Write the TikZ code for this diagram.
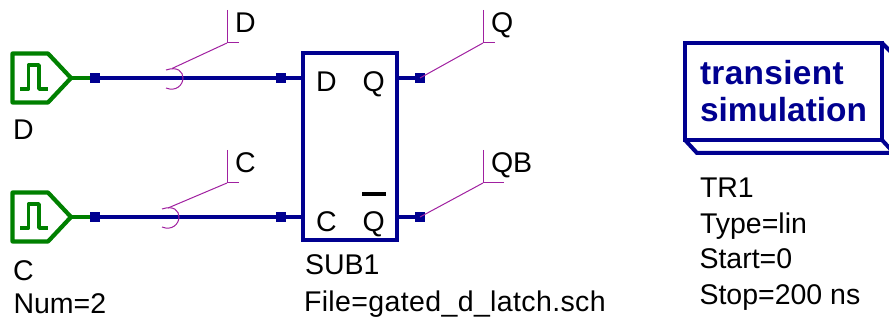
\documentclass[tikz,border=0pt]{standalone}
\usepackage{fontspec}
\setmainfont{Liberation Sans}
\definecolor{wireblue}{HTML}{000090}
\definecolor{srcgreen}{HTML}{008000}
\definecolor{labelpurple}{HTML}{A020A0}
\tikzset{
  wire/.style={draw=wireblue,line width=4.4pt},
  symbolline/.style={draw=wireblue,line width=4pt,line join=miter},
  srcline/.style={draw=srcgreen,line width=4.2pt,line join=round,line cap=round},
  srcwire/.style={draw=srcgreen,line width=4.2pt},
  junction/.style={fill=wireblue,draw=none,minimum size=10pt,inner sep=0pt,outer sep=0pt},
  txt/.style={anchor=base west,inner sep=0pt,outer sep=0pt,font=\fontsize{28.5}{30}\selectfont,text=black},
  simtxt/.style={anchor=base west,inner sep=0pt,outer sep=0pt,font=\fontsize{33.4}{36}\bfseries\selectfont,text=wireblue},
  tag/.style={draw=labelpurple,line width=1pt}
}
\begin{document}
\begin{tikzpicture}[x=1pt,y=-1pt]
\useasboundingbox (0,0) rectangle (889,323);
% sources
\foreach \n/\y in {d/78,c/217}{
  \draw[srcline] (12.5,\y-24.5) -- (48,\y-24.5) -- (71,\y) -- (48,\y+24.5) -- (12.5,\y+24.5) -- cycle;
  \draw[draw=srcgreen,line width=3.4pt,line join=round] (20,\y+11) -- (28.5,\y+11) -- (28.5,\y-13) -- (39,\y-13) -- (39,\y+11) -- (48,\y+11);
  \coordinate (src\n) at (71,\y);
}
% junctions
\node[junction] (jd1) at (95,78) {};
\node[junction] (jd2) at (281,78) {};
\node[junction] (jc1) at (95,217) {};
\node[junction] (jc2) at (281,217) {};
\node[junction] (jq) at (420,78) {};
\node[junction] (jqb) at (420,217) {};
% subcircuit
\node[draw=wireblue,line width=4pt,minimum width=94pt,minimum height=187pt,inner sep=0pt,outer sep=0pt] (sub) at (350,146.5) {};
\coordinate (subd) at (303,78);
\coordinate (subc) at (303,217);
\coordinate (subq) at (397,78);
\coordinate (subqb) at (397,217);
% wires
\draw[srcwire] (srcd) -- (jd1);
\draw[srcwire] (srcc) -- (jc1);
\draw[wire] (jd1) -- (jd2);
\draw[wire] (jc1) -- (jc2);
\draw[wire] (jd2) -- (subd);
\draw[wire] (jc2) -- (subc);
\draw[wire] (subq) -- (jq);
\draw[wire] (subqb) -- (jqb);
% wire labels
\coordinate (kd) at (227,43);
\coordinate (kc) at (227,183);
\coordinate (kq) at (483,43);
\coordinate (kqb) at (483,183);
\coordinate (ad) at (172,68.5);
\coordinate (ac) at (168,208);
\draw[tag] (227,10) -- (kd) -- (239,43);
\draw[tag] (227,150) -- (kc) -- (239,183);
\draw[tag] (483,10) -- (kq) -- (495,43);
\draw[tag] (483,150) -- (kqb) -- (504,183);
\draw[tag] (kd) -- (ad);
\draw[tag] (kc) -- (ac);
\draw[tag] (kq) -- (jq.center);
\draw[tag] (kqb) -- (jqb.center);
\draw[tag] (166,70) .. controls (178,66) and (183,72) .. (183,78) .. controls (183,85) and (176,92) .. (166,88);
\draw[tag] (162,209) .. controls (174,205) and (179,211) .. (179,217) .. controls (179,224) and (172,231) .. (162,227);
% text
\node[txt] (t1) at (13,140) {D};
\node[txt] (t2) at (13,280) {C};
\node[txt] (t3) at (13.5,313) {Num=2};
\node[txt] (t4) at (235,33) {D};
\node[txt] (t5) at (235,173) {C};
\node[txt] (t6) at (491,33) {Q};
\node[txt] (t7) at (491,173) {QB};
\node[txt] (t8) at (316,91.5) {D};
\node[txt] (t9) at (362.5,91.5) {Q};
\node[txt] (t10) at (316,232) {C};
\node[txt] (t11) at (362.5,232) {Q};
\draw[draw=black,line width=4pt] (362,194) -- (386,194);
\node[txt] (t12) at (305,275) {SUB1};
\node[txt] (t13) at (304,311) {\addfontfeature{LetterSpace=1.3}File=gated\_d\_latch.sch};
% simulation block
\draw[symbolline] (685,43) rectangle (882,140);
\draw[symbolline] (685,140) -- (697,153) -- (894,153) -- (882,140);
\draw[symbolline] (882,43) -- (894,55) -- (894,153);
\node[simtxt] (s1) at (700,85) {\addfontfeature{LetterSpace=1}transient};
\node[simtxt] (s2) at (700,122) {simulation};
\node[txt] (t14) at (700,198) {TR1};
\node[txt] (t15) at (700,234) {Type=lin};
\node[txt] (t16) at (699.5,269) {Start=0};
\node[txt] (t17) at (699.5,304) {Stop=200 ns};
\end{tikzpicture}
\end{document}
